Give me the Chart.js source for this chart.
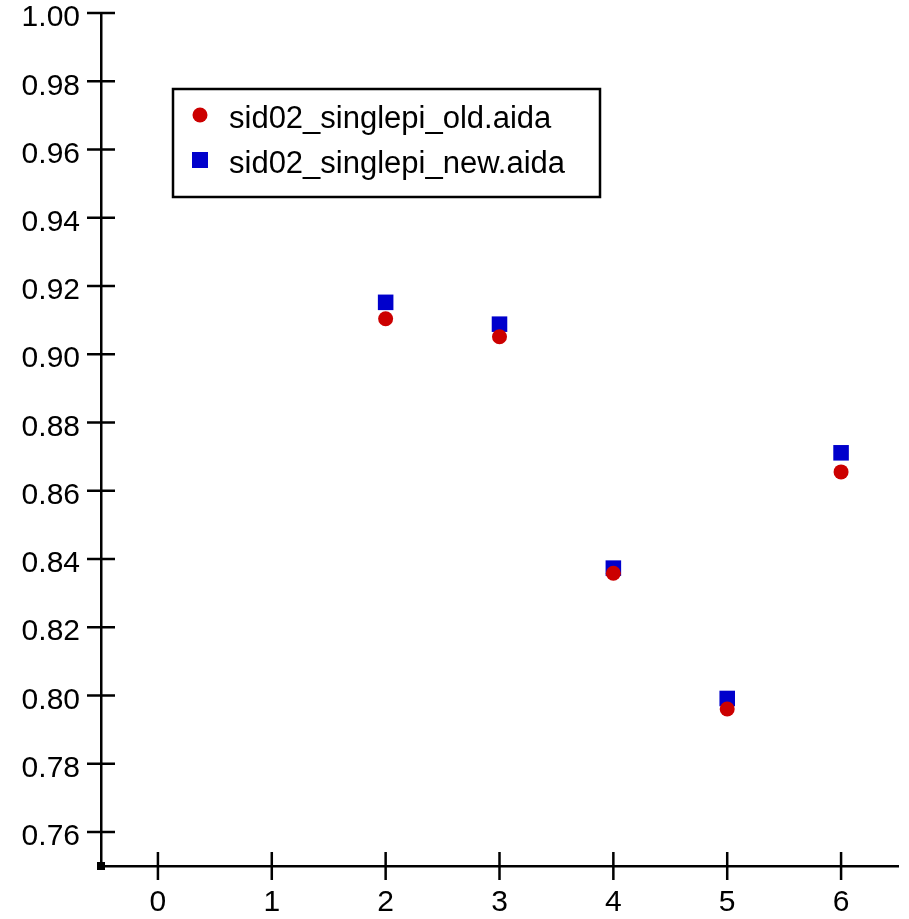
<!DOCTYPE html>
<html>
<head>
<meta charset="utf-8">
<script src="https://cdn.jsdelivr.net/npm/chart.js@4/dist/chart.umd.min.js"></script>
<style>
  html, body { margin: 0; padding: 0; background: #fff; }
  #wrap { width: 909px; height: 919px; }
</style>
</head>
<body>
<div id="wrap"><canvas id="chart" width="909" height="919"></canvas></div>
<script>
// data
const xValues = [2, 3, 4, 5, 6];
const oldValues = [0.9104, 0.9051, 0.8358, 0.7960, 0.8655];
const newValues = [0.9152, 0.9088, 0.8373, 0.7991, 0.8711];
const seriesLabels = ['sid02_singlepi_old.aida', 'sid02_singlepi_new.aida'];
const xTicks = [0, 1, 2, 3, 4, 5, 6];
const yTicks = [0.76, 0.78, 0.80, 0.82, 0.84, 0.86, 0.88, 0.90, 0.92, 0.94, 0.96, 0.98, 1.00];

const FONT = '"Liberation Sans", Arial, Helvetica, sans-serif';

function toPoints(xs, ys) {
    return xs.map((x, i) => ({ x: x, y: ys[i] }));
}

// ticks that cross the axis line, plus the little corner square
const crossTicks = {
    id: 'crossTicks',
    afterDraw(chart) {
        const ctx = chart.ctx;
        const xs = chart.scales.x;
        const ys = chart.scales.y;
        const axisX = chart.chartArea.left;
        const axisY = chart.chartArea.bottom;
        ctx.save();
        ctx.strokeStyle = '#000';
        ctx.lineWidth = 2.5;
        ctx.beginPath();
        yTicks.forEach(v => {
            const py = ys.getPixelForValue(v);
            ctx.moveTo(axisX - 14, py);
            ctx.lineTo(axisX + 14, py);
        });
        xTicks.forEach(v => {
            const px = xs.getPixelForValue(v);
            ctx.moveTo(px, axisY - 14);
            ctx.lineTo(px, axisY + 14);
        });
        ctx.stroke();
        ctx.fillStyle = '#000';
        ctx.fillRect(axisX - 4, axisY - 4, 8, 8);
        ctx.restore();
    }
};

// boxed legend in the upper left of the plot
const boxLegend = {
    id: 'boxLegend',
    afterDraw(chart) {
        const ctx = chart.ctx;
        ctx.save();
        ctx.strokeStyle = '#000';
        ctx.lineWidth = 2.5;
        ctx.strokeRect(173, 89, 427, 108);
        ctx.font = '31px ' + FONT;
        ctx.textBaseline = 'alphabetic';
        ctx.textAlign = 'left';
        const rows = [115, 160];
        chart.data.datasets.forEach((ds, i) => {
            const cy = rows[i];
            ctx.fillStyle = ds.backgroundColor;
            if (ds.pointStyle === 'circle') {
                ctx.beginPath();
                ctx.arc(200, cy, 7.5, 0, Math.PI * 2);
                ctx.fill();
            } else {
                ctx.fillRect(192, cy - 8, 16, 16);
            }
            ctx.fillStyle = '#000';
            ctx.fillText(ds.label, 229, cy + 13);
        });
        ctx.restore();
    }
};

const context = document.getElementById('chart').getContext('2d');

const myChart = new Chart(context, {
    type: 'scatter',
    data: {
        datasets: [
            {
                label: seriesLabels[0],
                data: toPoints(xValues, oldValues),
                pointStyle: 'circle',
                pointRadius: 7.5,
                pointHoverRadius: 7.5,
                borderWidth: 0,
                backgroundColor: '#cc0000',
                borderColor: '#cc0000'
            },
            {
                label: seriesLabels[1],
                data: toPoints(xValues, newValues),
                pointStyle: 'rect',
                pointRadius: 11,
                pointHoverRadius: 11,
                borderWidth: 0,
                backgroundColor: '#0000cc',
                borderColor: '#0000cc'
            }
        ]
    },
    options: {
        responsive: false,
        animation: false,
        layout: { padding: { top: 13, right: 9, left: 0, bottom: 0 } },
        plugins: {
            legend: { display: false },
            tooltip: { enabled: false }
        },
        scales: {
            x: {
                type: 'linear',
                min: -0.5,
                max: 6.5,
                afterBuildTicks: (scale) => { scale.ticks = xTicks.map(v => ({ value: v })); },
                afterFit: (scale) => {
                    scale.height = 53;
                    scale.paddingLeft = 0;
                    scale.paddingRight = 0;
                },
                grid: { display: false, drawTicks: false },
                border: { display: true, color: '#000', width: 2.5 },
                ticks: {
                    color: '#000',
                    padding: 19,
                    maxRotation: 0,
                    font: { family: FONT, size: 30 },
                    callback: (v) => String(v)
                }
            },
            y: {
                type: 'linear',
                min: 0.75,
                max: 1.0,
                afterBuildTicks: (scale) => { scale.ticks = yTicks.map(v => ({ value: v })); },
                afterFit: (scale) => {
                    scale.width = 101;
                    scale.paddingTop = 0;
                    scale.paddingBottom = 0;
                },
                grid: { display: false, drawTicks: false },
                border: { display: true, color: '#000', width: 2.5 },
                ticks: {
                    color: '#000',
                    padding: 21,
                    labelOffset: 5,
                    font: { family: FONT, size: 30 },
                    callback: (v) => Number(v).toFixed(2)
                }
            }
        }
    },
    plugins: [crossTicks, boxLegend]
});
</script>
</body>
</html>
